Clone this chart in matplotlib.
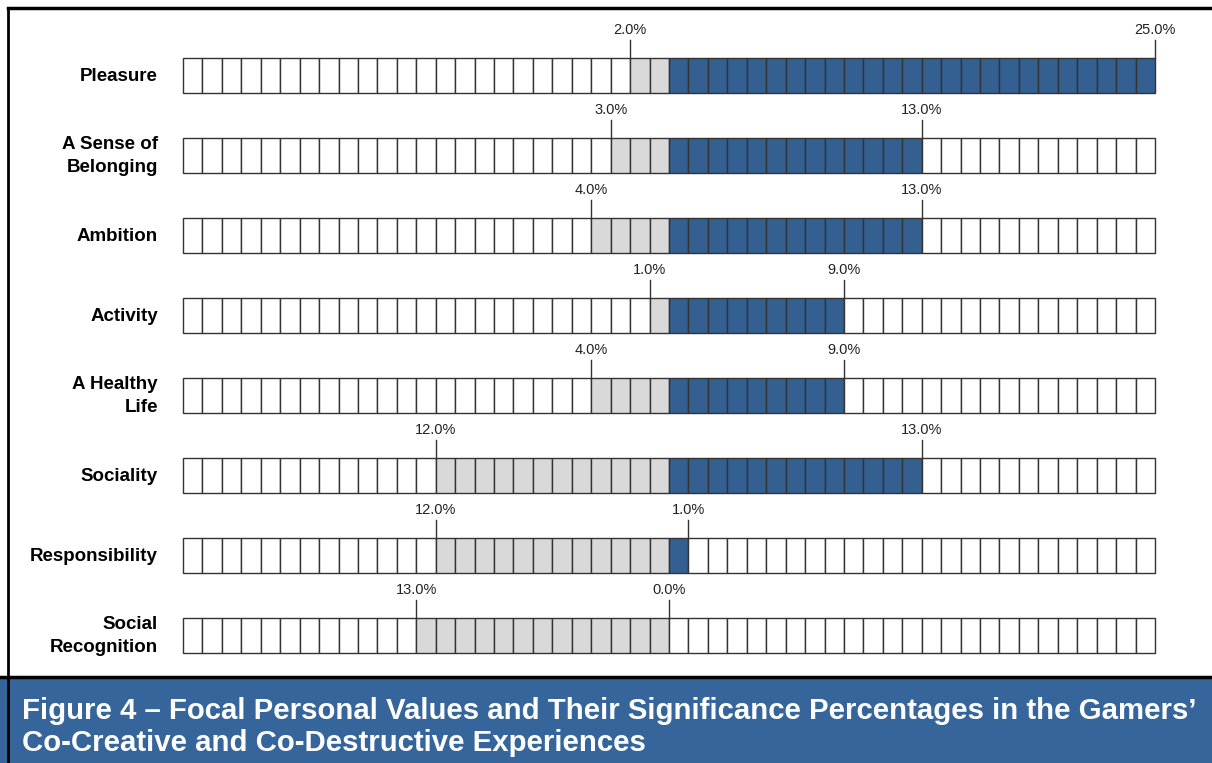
import matplotlib
matplotlib.use("Agg")
import matplotlib.pyplot as plt
from matplotlib.patches import Rectangle
from matplotlib.lines import Line2D

categories = ["Pleasure", "A Sense of\nBelonging", "Ambition", "Activity",
              "A Healthy\nLife", "Sociality", "Responsibility", "Social\nRecognition"]
co_destructive = [2, 3, 4, 1, 4, 12, 12, 13]   # grey cells, left of centre
co_creative = [25, 13, 13, 9, 9, 13, 1, 0]     # blue cells, right of centre
cells_per_side = 25
caption = ("Figure 4 \u2013 Focal Personal Values and Their Significance Percentages in the Gamers\u2019\n"
           "Co-Creative and Co-Destructive Experiences")

BLUE = "#335f91"
GREY = "#d9d9d9"
EDGE = "#333333"
CAP_BLUE = "#35659a"

W, H = 1212, 763
fig = plt.figure(figsize=(W / 100, H / 100), dpi=100)
plt.rcParams['font.family'] = ['Liberation Sans', 'DejaVu Sans']

# axes covering bar area: x 183..1155 px, y 35..675 px
ax = fig.add_axes([183 / W, (H - 675) / H, 972 / W, 640 / H])
ax.set_xlim(-cells_per_side, cells_per_side)
ax.set_ylim(len(categories) - 0.5, -0.5)
ax.axis("off")

bar_h = 35 / 80
for i, (cat, d, c) in enumerate(zip(categories, co_destructive, co_creative)):
    lefts = list(range(-cells_per_side, cells_per_side))
    colors = []
    for x in lefts:
        if -d <= x < 0:
            colors.append(GREY)
        elif 0 <= x < c:
            colors.append(BLUE)
        else:
            colors.append("white")
    ax.barh([i] * len(lefts), [1] * len(lefts), left=lefts, height=bar_h,
            color=colors, edgecolor=EDGE, linewidth=1.0, clip_on=False)
    ax.annotate(cat, xy=(-cells_per_side, i), xytext=(-18, -1), textcoords="offset points",
                ha="right", va="center", fontsize=13.5, fontweight="bold",
                linespacing=1.45, color="black", annotation_clip=False)
    top = i - bar_h / 2
    for xv, val in ((-d, d), (c, c)):
        ax.plot([xv, xv], [top, top - 0.225], color=EDGE, linewidth=1.0, clip_on=False)
        ax.text(xv, i - 0.51, f"{val:.1f}%", ha="center", va="baseline",
                fontsize=10.5, color="#222222", clip_on=False)

# caption box
fig.patches.append(Rectangle((0, 0), 1, (H - 677) / H, transform=fig.transFigure,
                             facecolor=CAP_BLUE, edgecolor="none", zorder=0))
fig.lines.append(Line2D([0, 1], [(H - 677) / H] * 2, transform=fig.transFigure,
                        color="black", linewidth=2.5))
fig.lines.append(Line2D([8 / W, 8 / W], [0, 1 - 8 / H], transform=fig.transFigure,
                        color="black", linewidth=2))
fig.lines.append(Line2D([8 / W, 1], [1 - 8 / H] * 2, transform=fig.transFigure,
                        color="black", linewidth=2.5))
fig.text(22 / W, 1 - 727 / H, caption, ha="left", va="center", color="white",
         fontsize=21.2, fontweight="bold", linespacing=1.22)

fig.savefig("out.png", dpi=100)
